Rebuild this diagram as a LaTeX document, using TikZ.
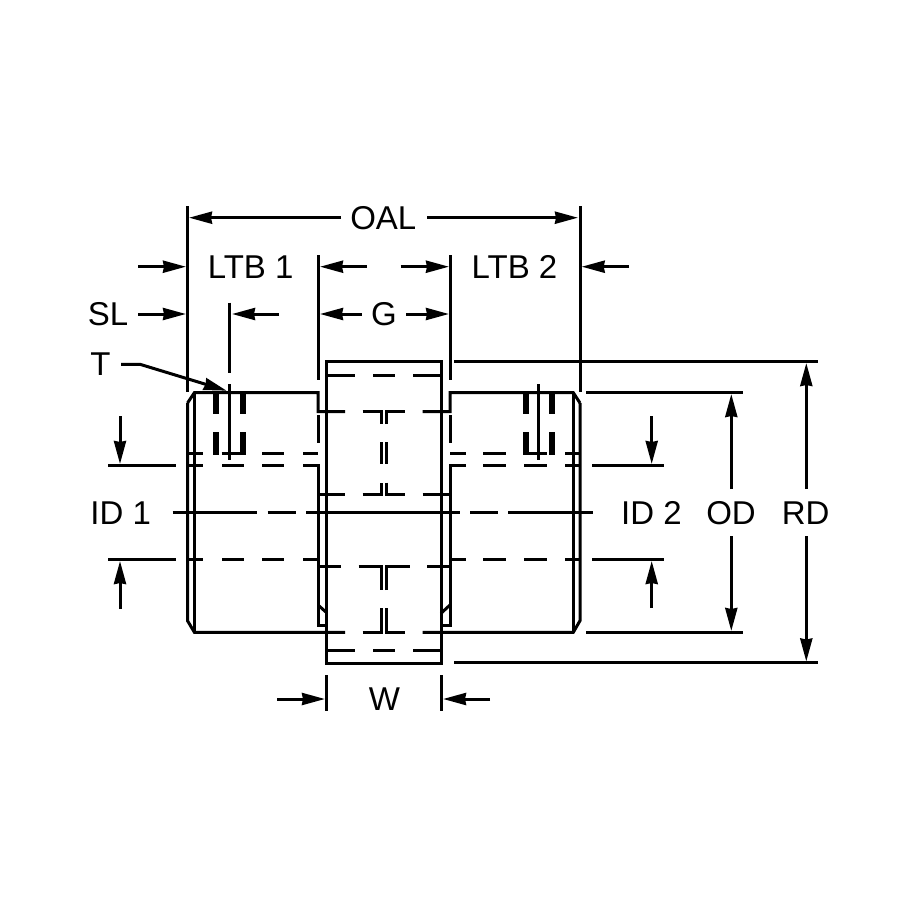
\documentclass[tikz,border=0pt]{standalone}
\usepackage{fontspec}
\setmainfont{Liberation Sans}
\usetikzlibrary{arrows.meta}
\tikzset{
  lbl/.style={inner sep=0pt,outer sep=0pt,text height=23pt,text depth=0pt,font=\fontsize{33}{34}\selectfont,text=black},
  part/.style={draw=black,line width=3pt,line join=miter},
  dimline/.style={draw=black,line width=3pt,-{Stealth[length=23pt,width=12pt,inset=1pt]}},
  bar/.style={draw=black,line width=6pt}
}
\begin{document}
\begin{tikzpicture}[x=1pt,y=-1pt]
\useasboundingbox (0,0) rectangle (900,900);
\fill[white] (0,0) rectangle (900,900);
% labels
\node[lbl] (oal) at (383.3,217.7) {OAL};
\node[lbl] (ltba) at (250.7,267) {LTB 1};
\node[lbl] (ltbb) at (514.5,267) {LTB 2};
\node[lbl] (sl) at (108,314) {SL};
\node[lbl] (g) at (384,314) {G};
\node[lbl] (t) at (100.5,364) {T};
\node[lbl] (ida) at (120.7,512.7) {ID 1};
\node[lbl] (idb) at (651.5,512.7) {ID 2};
\node[lbl] (od) at (731,512.7) {OD};
\node[lbl] (rd) at (805.7,512.7) {RD};
\node[lbl] (w) at (384.5,699) {W};
% left hub
\draw[part] (187.5,391.7) -- (187.5,205.7);
\draw[part] (187.5,403) -- (194.4,392.7) -- (318,392.7) -- (318,411.7) -- (345,411.7);
\draw[part] (187.5,403) -- (187.5,620.7) -- (194.4,632.3) -- (345,632.3);
\draw[part] (194.4,392.7) -- (194.4,632.3);
\draw[part] (318,415) -- (318,443.3);
\draw[part] (303,465.3) -- (318,465.3) -- (318,625.7) -- (326.7,625.7);
\draw[part] (318,605) -- (326.7,612.7);
\draw[part] (317,494.3) -- (345,494.3);
\draw[part] (317,566) -- (340.7,566);
% right hub
\draw[part] (580,391.7) -- (580,205.7);
\draw[part] (580,403) -- (573.3,392.7) -- (450,392.7) -- (450,411.7) -- (422.7,411.7);
\draw[part] (580,403) -- (580,620.7) -- (573.3,632.3) -- (422.7,632.3);
\draw[part] (573.3,392.7) -- (573.3,632.3);
\draw[part] (450,415) -- (450,443.3);
\draw[part] (466,465.3) -- (450,465.3) -- (450,625.7) -- (441,625.7);
\draw[part] (450,605) -- (441,613.3);
\draw[part] (422.7,494.3) -- (451,494.3);
\draw[part] (427.3,566) -- (451,566);
% spider
\draw[part] (326.7,361.7) rectangle (441,663);
\foreach \yy in {375,650}{
  \draw[part] (326.7,\yy) -- (354.7,\yy);
  \draw[part] (373,\yy) -- (395,\yy);
  \draw[part] (413,\yy) -- (441,\yy);
}
% spider web
\draw[part] (362.7,411.7) -- (381.7,411.7) -- (381.7,424);
\draw[part] (386.7,424) -- (386.7,411.7) -- (405,411.7);
\draw[part] (381.7,442.3) -- (381.7,464.3);
\draw[part] (386.7,442.3) -- (386.7,464.3);
\draw[part] (362.7,494.3) -- (381.7,494.3) -- (381.7,482.7);
\draw[part] (386.7,482.7) -- (386.7,494.3) -- (405,494.3);
\draw[part] (358.7,566) -- (381.7,566) -- (381.7,590);
\draw[part] (386.7,590) -- (386.7,566) -- (409.7,566);
\draw[part] (362.7,632.3) -- (381.7,632.3) -- (381.7,608.3);
\draw[part] (386.7,608.3) -- (386.7,632.3) -- (405,632.3);
% bore rows
\foreach \aa/\bb in {187/203,221.7/245.7,262/284,303/318,450/466,483/506,523/546.7,565/579.3}{
  \draw[part] (\aa,453.7) -- (\bb,453.7);
}
\foreach \aa/\bb in {108/175.7,187/203,222/244,262/284,450/466,483/506,524/547,565/579.3,592/664}{
  \draw[part] (\aa,465.3) -- (\bb,465.3);
  \draw[part] (\aa,559.7) -- (\bb,559.7);
}
\draw[part] (303,559.7) -- (318,559.7);
% centre line
\foreach \aa/\bb in {172.7/257.3,267.7/296,306/460,470/498,508.3/593.3}{
  \draw[part] (\aa,512.7) -- (\bb,512.7);
}
% set screws, left
\draw[part] (229.5,302.7) -- (229.5,372.7);
\draw[part] (229.5,384) -- (229.5,460);
\foreach \xx in {216.2,242.8}{
  \draw[bar] (\xx,392.7) -- (\xx,414);
  \draw[bar] (\xx,432.3) -- (\xx,454.5);
}
% set screws, right
\draw[part] (538.7,384) -- (538.7,460);
\foreach \xx in {525.8,551.8}{
  \draw[bar] (\xx,392.7) -- (\xx,414);
  \draw[bar] (\xx,432.3) -- (\xx,454.5);
}
% extension lines
\draw[part] (318,255) -- (318,380);
\draw[part] (450,255) -- (450,380);
\draw[part] (454,361.7) -- (818,361.7);
\draw[part] (454,662.7) -- (818,662.7);
\draw[part] (586,392.7) -- (743,392.7);
\draw[part] (586,632.3) -- (743,632.3);
\draw[part] (326.7,675) -- (326.7,711);
\draw[part] (441,675) -- (441,711);
% dimension arrows
\draw[dimline] (341,217.7) -- (189,217.7);
\draw[dimline] (427,217.7) -- (578,217.7);
\draw[dimline] (138,266.7) -- (186,266.7);
\draw[dimline] (367,266.7) -- (320,266.7);
\draw[dimline] (400.7,266.7) -- (449,266.7);
\draw[dimline] (629,266.7) -- (581.7,266.7);
\draw[dimline] (138,314) -- (186,314);
\draw[dimline] (279,314) -- (232,314);
\draw[dimline] (361.7,314) -- (320,314);
\draw[dimline] (406,314) -- (449,314);
\draw[dimline] (121,364.3) -- (140,364.3) -- (226.7,390.7);
\draw[dimline] (120,416) -- (120,464);
\draw[dimline] (120,609) -- (120,561);
\draw[dimline] (651.7,416) -- (651.7,464);
\draw[dimline] (651.7,608) -- (651.7,561);
\draw[dimline] (731.3,489) -- (731.3,394);
\draw[dimline] (731.3,536) -- (731.3,631);
\draw[dimline] (806.3,489) -- (806.3,363);
\draw[dimline] (806.3,536) -- (806.3,661.5);
\draw[dimline] (277,699) -- (325,699);
\draw[dimline] (490,699) -- (443,699);
\end{tikzpicture}
\end{document}
